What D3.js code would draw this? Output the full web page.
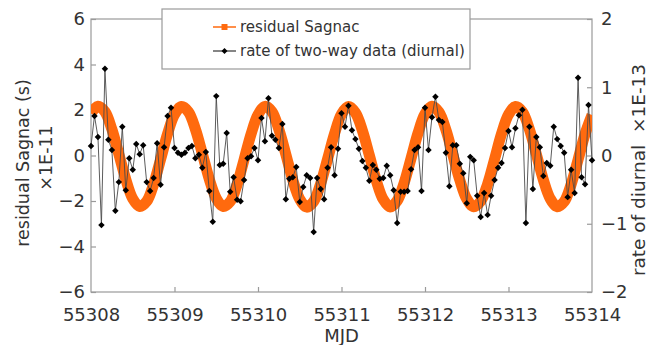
<!DOCTYPE html>
<html>
<head>
<meta charset="utf-8">
<script src="https://cdn.jsdelivr.net/npm/d3@7"></script>
<style>
  html, body { margin: 0; padding: 0; background: #fff; }
  text { font-family: "DejaVu Sans", Verdana, sans-serif; fill: #333; }
</style>
</head>
<body>
<div id="chart"></div>
<script>
// MJD axis
const mjdStart = 55308;
const mjdTicks = [55308, 55309, 55310, 55311, 55312, 55313, 55314];
const leftTicks = [-6, -4, -2, 0, 2, 4, 6];
const rightTicks = [-2, -1, 0, 1, 2];

// residual Sagnac (x1E-11 s), sampled every 2 h from 55308.0
const sagnacStepDays = 1 / 12;
const sagnacValues = [
  1.85, 2.17, 1.93, 1.15, 0.06, -1.05, -1.90, -2.24, -2.02, -1.26, -0.17, 0.95,
  1.80, 2.15, 1.92, 1.16, 0.08, -1.04, -1.88, -2.24, -2.03, -1.27, -0.18, 0.94,
  1.79, 2.16, 1.93, 1.14, 0.05, -1.08, -1.92, -2.27, -2.02, -1.24, -0.15, 0.96,
  1.82, 2.15, 1.88, 1.10, 0.01, -1.10, -1.93, -2.26, -1.99, -1.21, -0.12, 0.99,
  1.83, 2.16, 1.91, 1.13, 0.03, -1.07, -1.91, -2.25, -2.01, -1.25, -0.16, 0.96,
  1.80, 2.15, 1.92, 1.15, 0.06, -1.06, -1.90, -2.25, -2.03, -1.27, -0.18, 0.94,
  1.78
];

// rate of two-way data (diurnal, x1E-13), hourly from 55308.0
const rateStepDays = 1 / 24;
const rateValues = [
  0.14, 0.58, 0.27, -1.02, 1.27, 0.23, 0.08, -0.81, -0.39, 0.42, -0.51, -0.04,
  -0.21, 0.17, 0.02, 0.15, -0.39, -0.52, -0.33, 0.18, -0.43, 0.12, 0.58, 0.70,
  0.11, 0.04, 0.01, 0.04, 0.11, 0.14, -0.04, 0.01, -0.18, 0.05, -0.52, -0.97,
  0.87, -0.14, -0.12, 0.33, -0.53, -0.32, -0.65, -0.67, -0.36, -0.04, -0.01, 0.11,
  -0.07, 0.55, 0.21, 0.84, 0.29, 0.23, 0.11, 0.46, -0.64, -0.34, -0.32, -0.17,
  -0.68, -0.46, -0.29, -0.33, -1.12, -0.33, -0.49, -0.64, -0.18, 0.12, -0.29, 0.10,
  0.62, 0.42, 0.73, 0.37, 0.24, 0.10, -0.08, -0.18, -0.37, -0.14, -0.21, -0.34,
  -0.33, -0.15, -0.29, -0.51, -0.99, -0.53, -0.53, -0.52, -0.20, 0.08, 0.12, -0.52,
  0.70, 0.08, 0.56, 0.86, 0.52, 0.49, 0.04, -0.45, 0.15, 0.15, -0.12, -0.26,
  -0.70, -0.02, -0.07, -0.59, -0.90, -0.55, -0.87, -0.59, -0.36, -0.18, -0.11, 0.11,
  0.36, 0.12, 0.40, 0.59, 0.67, -0.99, 0.42, -0.49, 0.27, 0.12, -0.30, -0.11,
  -0.15, 0.42, 0.24, 0.14, 0.04, -0.61, -0.21, -0.55, 1.14, -0.32, -0.42, 0.74,
  -0.07
];

const legendLabels = ["residual Sagnac", "rate of two-way data (diurnal)"];
const orange = "#ff6a0e";

const width = 656, height = 345;
const plot = { left: 91, right: 592, top: 19, bottom: 292 };

const svg = d3.select("#chart").append("svg")
  .attr("width", width)
  .attr("height", height);

const x = d3.scaleLinear().domain([55308, 55314]).range([plot.left, plot.right]);
const yL = d3.scaleLinear().domain([-6, 6]).range([plot.bottom, plot.top]);
const yR = d3.scaleLinear().domain([-2, 2]).range([plot.bottom, plot.top]);

const sagnac = sagnacValues.map((v, i) => ({ t: mjdStart + i * sagnacStepDays, v }));
const rate = rateValues.map((v, i) => ({ t: mjdStart + i * rateStepDays, v }));

// frame
svg.append("rect")
  .attr("x", plot.left).attr("y", plot.top)
  .attr("width", plot.right - plot.left)
  .attr("height", plot.bottom - plot.top)
  .attr("fill", "none")
  .attr("stroke", "#9a9a9a")
  .attr("stroke-width", 1.2);

// axes (ticks pointing inward)
const gx = svg.append("g")
  .attr("transform", "translate(0," + plot.bottom + ")")
  .call(d3.axisBottom(x).tickValues(mjdTicks).tickFormat(d3.format("d"))
    .tickSizeInner(-5).tickSizeOuter(0).tickPadding(16));
const gl = svg.append("g")
  .attr("transform", "translate(" + plot.left + ",0)")
  .call(d3.axisLeft(yL).tickValues(leftTicks).tickFormat(d3.format("d"))
    .tickSizeInner(-5).tickSizeOuter(0).tickPadding(6));
const gr = svg.append("g")
  .attr("transform", "translate(" + plot.right + ",0)")
  .call(d3.axisRight(yR).tickValues(rightTicks).tickFormat(d3.format("d"))
    .tickSizeInner(-5).tickSizeOuter(0).tickPadding(9));

[gx, gl, gr].forEach(g => {
  g.select(".domain").remove();
  g.selectAll(".tick line").attr("stroke", "#9a9a9a").attr("stroke-width", 1.2);
  g.selectAll(".tick text").style("font-size", "18px").attr("fill", "#333")
    .style("font-family", "'DejaVu Sans', Verdana, sans-serif");
});
gr.selectAll(".tick text").attr("text-anchor", "start");
gx.select(".tick:first-of-type line").remove();
gx.select(".tick:last-of-type line").remove();

// residual Sagnac band
svg.append("clipPath").attr("id", "plotclip")
  .append("rect")
  .attr("x", plot.left).attr("y", plot.top)
  .attr("width", plot.right - plot.left)
  .attr("height", plot.bottom - plot.top);

svg.append("path")
  .datum(sagnac)
  .attr("clip-path", "url(#plotclip)")
  .attr("fill", "none")
  .attr("stroke", orange)
  .attr("stroke-width", 11)
  .attr("d", d3.line().x(d => x(d.t)).y(d => yL(d.v)).curve(d3.curveCatmullRom));

// rate of two-way data
svg.append("path")
  .datum(rate)
  .attr("fill", "none")
  .attr("stroke", "#4a4a4a")
  .attr("stroke-width", 0.9)
  .attr("d", d3.line().x(d => x(d.t)).y(d => yR(d.v)));

const diamond = d3.symbol().type(d3.symbolSquare).size(21);
svg.append("g").selectAll("path")
  .data(rate)
  .enter().append("path")
  .attr("d", diamond)
  .attr("fill", "#000")
  .attr("transform", d => "translate(" + x(d.t) + "," + yR(d.v) + ") rotate(45)");

// axis titles
svg.append("text")
  .attr("transform", "translate(23,163) rotate(-90)")
  .attr("text-anchor", "middle")
  .attr("dominant-baseline", "central")
  .style("font-size", "17.5px")
  .text("residual Sagnac (s)");
svg.append("text")
  .attr("transform", "translate(46,158) rotate(-90)")
  .attr("text-anchor", "middle")
  .attr("dominant-baseline", "central")
  .style("font-size", "17.5px")
  .text("×1E-11");
svg.append("text")
  .attr("transform", "translate(638,170) rotate(-90)")
  .attr("text-anchor", "middle")
  .attr("dominant-baseline", "central")
  .style("font-size", "18.5px")
  .style("white-space", "pre")
  .text("rate of diurnal  ×1E-13");
svg.append("text")
  .attr("x", (plot.left + plot.right) / 2)
  .attr("y", 335)
  .attr("text-anchor", "middle")
  .attr("dominant-baseline", "central")
  .style("font-size", "18px")
  .text("MJD");

// legend
const legend = svg.append("g");
legend.append("rect")
  .attr("x", 162).attr("y", 9)
  .attr("width", 308).attr("height", 60)
  .attr("fill", "#fff")
  .attr("stroke", "#9a9a9a")
  .attr("stroke-width", 1.2);

const rows = legend.selectAll("g.row")
  .data(legendLabels)
  .enter().append("g")
  .attr("class", "row")
  .attr("transform", (d, i) => "translate(0," + (i === 0 ? 27 : 51) + ")");

rows.append("line")
  .attr("x1", 213).attr("x2", 236)
  .attr("stroke", (d, i) => i === 0 ? orange : "#333")
  .attr("stroke-width", (d, i) => i === 0 ? 1.5 : 1.2);
rows.append("path")
  .attr("d", (d, i) => d3.symbol().type(d3.symbolSquare).size(i === 0 ? 36 : 18)())
  .attr("transform", (d, i) => "translate(224.5,0)" + (i === 0 ? "" : " rotate(45)"))
  .attr("fill", (d, i) => i === 0 ? orange : "#000");
rows.append("text")
  .attr("x", 240)
  .attr("dominant-baseline", "central")
  .style("font-size", "15px")
  .text(d => d);
</script>
</body>
</html>
